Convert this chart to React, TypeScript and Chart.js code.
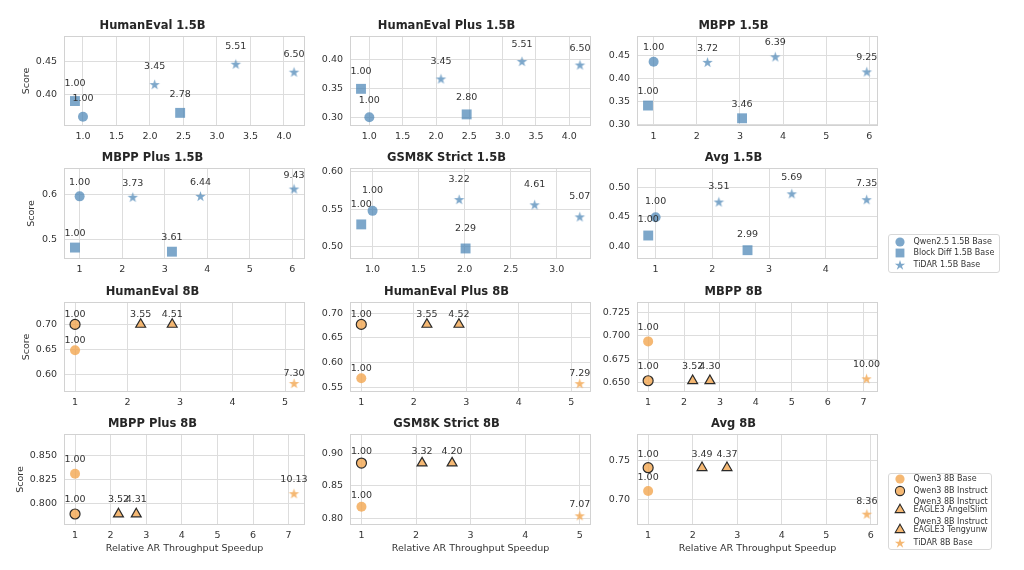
import React, { useEffect, useRef } from "react";
import { Chart, registerables } from "chart.js";
Chart.register(...registerables);

const FONT = "'DejaVu Sans', 'Liberation Sans', sans-serif";
Chart.defaults.font.family = FONT;

// ---------------- data ----------------
const titles15 = ["HumanEval 1.5B", "HumanEval Plus 1.5B", "MBPP 1.5B", "MBPP Plus 1.5B", "GSM8K Strict 1.5B", "Avg 1.5B"];
const titles8 = ["HumanEval 8B", "HumanEval Plus 8B", "MBPP 8B", "MBPP Plus 8B", "GSM8K Strict 8B", "Avg 8B"];

// 1.5B models
const qwen25BaseX = [1.0, 1.0, 1.0, 1.0, 1.0, 1.0];
const qwen25BaseY = [0.366, 0.300, 0.4375, 0.595, 0.548, 0.449];
const qwen25BaseLbl = ["1.00", "1.00", "1.00", "1.00", "1.00", "1.00"];

const blockDiffX = [[0.88, 2.45], [0.875, 2.46], [0.87, 3.05], [0.89, 3.17], [0.877, 2.01], [0.87, 2.62]];
const blockDiffY = [[0.390, 0.372], [0.349, 0.305], [0.341, 0.313], [0.483, 0.474], [0.530, 0.498], [0.418, 0.393]];
const blockDiffLbl = [["1.00", "2.78"], ["1.00", "2.80"], ["1.00", "3.46"], ["1.00", "3.61"], ["1.00", "2.29"], ["1.00", "2.99"]];

const tidar15X = [[2.07, 3.28, 4.15], [2.075, 3.29, 4.16], [2.25, 3.82, 5.94], [2.25, 3.84, 6.04], [1.94, 2.76, 3.25], [2.115, 3.40, 4.72]];
const tidar15Y = [[0.415, 0.446, 0.434], [0.366, 0.396, 0.390], [0.436, 0.448, 0.415], [0.593, 0.595, 0.611], [0.563, 0.556, 0.540], [0.475, 0.489, 0.479]];
const tidar15Lbl = [["3.45", "5.51", "6.50"], ["3.45", "5.51", "6.50"], ["3.72", "6.39", "9.25"], ["3.73", "6.44", "9.43"], ["3.22", "4.61", "5.07"], ["3.51", "5.69", "7.35"]];

// 8B models
const qwen3BaseX = [1.0, 1.0, 1.0, 1.0, 1.0, 1.0];
const qwen3BaseY = [0.648, 0.568, 0.694, 0.831, 0.818, 0.711];
const qwen3BaseLbl = ["1.00", "1.00", "1.00", "1.00", "1.00", "1.00"];

const qwen3InstX = [1.0, 1.0, 1.0, 1.0, 1.0, 1.0];
const qwen3InstY = [0.700, 0.6775, 0.652, 0.7886, 0.885, 0.741];
const qwen3InstLbl = ["1.00", "1.00", "1.00", "1.00", "1.00", "1.00"];

const angelSlimX = [2.25, 2.25, 2.24, 2.22, 2.11, 2.21];
const angelSlimY = [0.700, 0.6775, 0.652, 0.7886, 0.885, 0.741];
const angelSlimLbl = ["3.55", "3.55", "3.52", "3.52", "3.32", "3.49"];

const tengyunwX = [2.85, 2.86, 2.72, 2.72, 2.66, 2.77];
const tengyunwY = [0.700, 0.6775, 0.652, 0.7886, 0.885, 0.741];
const tengyunwLbl = ["4.51", "4.52", "4.30", "4.31", "4.20", "4.37"];

const tidar8X = [5.17, 5.16, 7.08, 7.15, 5.0, 5.91];
const tidar8Y = [0.581, 0.557, 0.654, 0.810, 0.804, 0.681];
const tidar8Lbl = ["7.30", "7.29", "10.00", "10.13", "7.07", "8.36"];

// axis ranges and ticks, one entry per panel (1.5B row-major, then 8B)
const xRange = [[0.7165, 4.3135], [0.71, 4.325], [0.615, 6.2], [0.6325, 6.2975], [0.755, 3.372], [0.672, 4.92],
  [0.79, 5.378], [0.785, 5.375], [0.69, 7.40], [0.69, 7.46], [0.79, 5.205], [0.75, 6.16]];
const yRange = [[0.352, 0.489], [0.285, 0.440], [0.296, 0.494], [0.458, 0.657], [0.484, 0.605], [0.378, 0.533],
  [0.564, 0.745], [0.540, 0.723], [0.640, 0.736], [0.777, 0.873], [0.790, 0.9295], [0.667, 0.7845]];
const xTickLabels = [
  ["1.0", "1.5", "2.0", "2.5", "3.0", "3.5", "4.0"],
  ["1.0", "1.5", "2.0", "2.5", "3.0", "3.5", "4.0"],
  ["1", "2", "3", "4", "5", "6"],
  ["1", "2", "3", "4", "5", "6"],
  ["1.0", "1.5", "2.0", "2.5", "3.0"],
  ["1", "2", "3", "4"],
  ["1", "2", "3", "4", "5"],
  ["1", "2", "3", "4", "5"],
  ["1", "2", "3", "4", "5", "6", "7"],
  ["1", "2", "3", "4", "5", "6", "7"],
  ["1", "2", "3", "4", "5"],
  ["1", "2", "3", "4", "5", "6"],
];
const yTickLabels = [
  ["0.40", "0.45"],
  ["0.30", "0.35", "0.40"],
  ["0.30", "0.35", "0.40", "0.45"],
  ["0.5", "0.6"],
  ["0.50", "0.55", "0.60"],
  ["0.40", "0.45", "0.50"],
  ["0.60", "0.65", "0.70"],
  ["0.55", "0.60", "0.65", "0.70"],
  ["0.650", "0.675", "0.700", "0.725"],
  ["0.800", "0.825", "0.850"],
  ["0.80", "0.85", "0.90"],
  ["0.70", "0.75"],
];

const yTitle = "Score";
const xTitle = "Relative AR Throughput Speedup";
const legend15 = ["Qwen2.5 1.5B Base", "Block Diff 1.5B Base", "TiDAR 1.5B Base"];
const legend8 = ["Qwen3 8B Base", "Qwen3 8B Instruct", "Qwen3 8B Instruct\nEAGLE3 AngelSlim", "Qwen3 8B Instruct\nEAGLE3 Tengyunw", "TiDAR 8B Base"];

// ---------------- style / layout ----------------
const TXT = "#333333";
const BLUE = "rgba(70,130,180,0.7)";
const ORANGE = "rgba(243,166,80,0.8)";
const EDGE = "#2a2a2a";
const GRID = "#dddddd";
const FRAME = "#d2d2d2";

const COL_LEFT = [64, 350, 637];
const PLOT_W = 241;
const ROW_TOP = [36, 168, 302, 434];
const ROW_H = [90, 91, 90, 91];
const Y_W = [64, 48, 48];
const TITLE_H = 18;
const PAD_R = 16;
const X_H = [20, 20, 20, 34];
const SCORE_X = [27, 32, 27, 20.7];
const LABEL_OFF = [18, 17, 14, 14, 20, 16, 10, 10, 14, 14, 11, 13];

function makeStar(color: string, R: number): HTMLCanvasElement {
  const s = Math.ceil(R * 2 + 2);
  const c = document.createElement("canvas");
  c.width = s;
  c.height = s;
  const g = c.getContext("2d")!;
  const cx = s / 2, cy = s / 2 + R * 0.05;
  g.beginPath();
  for (let i = 0; i < 10; i++) {
    const r = i % 2 === 0 ? R : R * 0.382;
    const a = -Math.PI / 2 + (i * Math.PI) / 5;
    const px = cx + r * Math.cos(a), py = cy + r * Math.sin(a);
    if (i === 0) g.moveTo(px, py);
    else g.lineTo(px, py);
  }
  g.closePath();
  g.fillStyle = color;
  g.fill();
  return c;
}

const framePlugin = {
  id: "frameBox",
  beforeDatasetsDraw(chart: any) {
    const { ctx, chartArea: a } = chart;
    ctx.save();
    ctx.strokeStyle = FRAME;
    ctx.lineWidth = 1;
    ctx.strokeRect(Math.round(a.left) + 0.5, Math.round(a.top) + 0.5, Math.round(a.right - a.left) - 1, Math.round(a.bottom - a.top) - 1);
    ctx.restore();
  },
};

const labelPlugin = {
  id: "ptLabels",
  afterDatasetsDraw(chart: any, _args: any, opts: any) {
    const ctx = chart.ctx;
    ctx.save();
    ctx.font = `9.5px ${FONT}`;
    ctx.fillStyle = TXT;
    ctx.textAlign = "center";
    ctx.textBaseline = "middle";
    chart.data.datasets.forEach((ds: any, di: number) => {
      const meta = chart.getDatasetMeta(di);
      meta.data.forEach((el: any, i: number) => {
        if (ds.ptLabels && ds.ptLabels[i] != null) ctx.fillText(ds.ptLabels[i], el.x, el.y - opts.offset);
      });
    });
    ctx.restore();
  },
};

const pts = (xs: number[], ys: number[]) => xs.map((x, i) => ({ x, y: ys[i] }));

function buildConfig(k: number, star15: HTMLCanvasElement, star8: HTMLCanvasElement): any {
  const col = k % 3;
  const row = Math.floor(k / 3);
  const is8 = k >= 6;
  const j = k % 6;
  const datasets: any[] = [];
  const base = { showLine: false, clip: false };
  if (!is8) {
    datasets.push({ ...base, label: legend15[0], data: pts([qwen25BaseX[j]], [qwen25BaseY[j]]), ptLabels: [qwen25BaseLbl[j]],
      pointStyle: "circle", pointRadius: 5, pointBackgroundColor: BLUE, pointBorderWidth: 0, order: 3 });
    datasets.push({ ...base, label: legend15[1], data: pts(blockDiffX[j], blockDiffY[j]), ptLabels: blockDiffLbl[j],
      pointStyle: "rect", pointRadius: 7, pointBackgroundColor: BLUE, pointBorderWidth: 0, order: 2 });
    datasets.push({ ...base, label: legend15[2], data: pts(tidar15X[j], tidar15Y[j]), ptLabels: tidar15Lbl[j],
      pointStyle: star15, pointRadius: 6, pointBackgroundColor: BLUE, pointBorderWidth: 0, order: 1 });
  } else {
    datasets.push({ ...base, label: legend8[0], data: pts([qwen3BaseX[j]], [qwen3BaseY[j]]), ptLabels: [qwen3BaseLbl[j]],
      pointStyle: "circle", pointRadius: 5, pointBackgroundColor: ORANGE, pointBorderWidth: 0, order: 5 });
    datasets.push({ ...base, label: legend8[1], data: pts([qwen3InstX[j]], [qwen3InstY[j]]), ptLabels: [qwen3InstLbl[j]],
      pointStyle: "circle", pointRadius: 5, pointBackgroundColor: ORANGE, pointBorderColor: EDGE, pointBorderWidth: 1.2, order: 4 });
    datasets.push({ ...base, label: legend8[2], data: pts([angelSlimX[j]], [angelSlimY[j]]), ptLabels: [angelSlimLbl[j]],
      pointStyle: "triangle", pointRadius: 5.7, pointBackgroundColor: ORANGE, pointBorderColor: EDGE, pointBorderWidth: 1.2, order: 3 });
    datasets.push({ ...base, label: legend8[3], data: pts([tengyunwX[j]], [tengyunwY[j]]), ptLabels: [tengyunwLbl[j]],
      pointStyle: "triangle", pointRadius: 5.7, pointBackgroundColor: ORANGE, pointBorderColor: EDGE, pointBorderWidth: 1.2, order: 2 });
    datasets.push({ ...base, label: legend8[4], data: pts([tidar8X[j]], [tidar8Y[j]]), ptLabels: [tidar8Lbl[j]],
      pointStyle: star8, pointRadius: 6, pointBackgroundColor: ORANGE, pointBorderWidth: 0, order: 1 });
  }
  const titles = is8 ? titles8 : titles15;
  const xl = xTickLabels[k];
  const yl = yTickLabels[k];
  const tickFont = { family: FONT, size: 9.5 };
  return {
    type: "scatter",
    data: { datasets },
    plugins: [framePlugin, labelPlugin],
    options: {
      animation: false,
      responsive: true,
      maintainAspectRatio: false,
      events: [],
      layout: { padding: { top: 0, right: PAD_R, bottom: 0, left: 0 } },
      plugins: {
        legend: { display: false },
        tooltip: { enabled: false },
        title: {
          display: true,
          text: titles[j],
          color: "#262626",
          font: { family: FONT, size: 11.5, weight: "bold", lineHeight: 1.2 },
          padding: { top: 1.1, bottom: 3.1 },
        },
        ptLabels: { offset: LABEL_OFF[k] },
      },
      scales: {
        x: {
          type: "linear",
          position: "bottom",
          bounds: "data",
          min: xRange[k][0],
          max: xRange[k][1],
          afterBuildTicks: (s: any) => { s.ticks = xl.map((t) => ({ value: parseFloat(t) })); },
          afterFit: (s: any) => { s.height = X_H[row]; },
          ticks: { callback: (_v: any, i: number) => xl[i], font: tickFont, color: TXT, padding: 5, maxRotation: 0, autoSkip: false },
          grid: { color: GRID, lineWidth: 1, drawTicks: false },
          border: { display: false },
          title: row === 3
            ? { display: true, text: xTitle, color: TXT, font: { family: FONT, size: 9.5, lineHeight: 1.2 }, padding: { top: 0, bottom: 5 } }
            : { display: false },
        },
        y: {
          type: "linear",
          position: "left",
          bounds: "data",
          min: yRange[k][0],
          max: yRange[k][1],
          afterBuildTicks: (s: any) => { s.ticks = yl.map((t) => ({ value: parseFloat(t) })); },
          afterFit: (s: any) => { s.width = Y_W[col]; },
          ticks: { callback: (_v: any, i: number) => yl[i], font: tickFont, color: TXT, padding: 7, autoSkip: false },
          grid: { color: GRID, lineWidth: 1, drawTicks: false },
          border: { display: false },
          title: col === 0
            ? { display: true, text: yTitle, color: TXT, font: { family: FONT, size: 9.5, lineHeight: 1.2 }, padding: { top: SCORE_X[row] - 5.7, bottom: 0 } }
            : { display: false },
        },
      },
    },
  };
}

function Marker({ kind, fill, edge }: { kind: string; fill: string; edge?: string }) {
  const sw = edge ? 1.1 : 0;
  const st = edge || "none";
  let shape: any = null;
  if (kind === "circle") shape = <circle cx={6} cy={6} r={4.6} fill={fill} stroke={st} strokeWidth={sw} />;
  else if (kind === "rect") shape = <rect x={1.6} y={1.6} width={8.8} height={8.8} fill={fill} />;
  else if (kind === "triangle") shape = <polygon points="6,1.2 10.8,9.6 1.2,9.6" fill={fill} stroke={st} strokeWidth={sw} strokeLinejoin="miter" />;
  else {
    const p: string[] = [];
    for (let i = 0; i < 10; i++) {
      const r = i % 2 === 0 ? 5.4 : 5.4 * 0.382;
      const a = -Math.PI / 2 + (i * Math.PI) / 5;
      p.push(`${(6 + r * Math.cos(a)).toFixed(2)},${(6.3 + r * Math.sin(a)).toFixed(2)}`);
    }
    shape = <polygon points={p.join(" ")} fill={fill} />;
  }
  return <svg width={12} height={12} style={{ position: "absolute", display: "block" }}>{shape}</svg>;
}

type LegItem = { text: string; kind: string; fill: string; edge?: string; ty: number; my: number };

function Legend({ left, top, width, height, items }: { left: number; top: number; width: number; height: number; items: LegItem[] }) {
  return (
    <div style={{ position: "absolute", left, top, width, height, border: "1px solid #d8d8d8", borderRadius: 3, background: "rgba(255,255,255,0.9)", boxSizing: "border-box" }}>
      {items.map((it, i) => {
        const lines = it.text.split("\n");
        return (
          <React.Fragment key={i}>
            <div style={{ position: "absolute", left: 11.5 - 6 - 1, top: it.my - 6 - 1, width: 12, height: 12 }}>
              <Marker kind={it.kind} fill={it.fill} edge={it.edge} />
            </div>
            <div style={{ position: "absolute", left: 25.5 - 1, top: it.ty - 4 - 1, fontFamily: FONT, fontSize: 8, lineHeight: "8px", color: TXT, whiteSpace: "nowrap" }}>
              {lines.map((l, li) => <div key={li}>{l}</div>)}
            </div>
          </React.Fragment>
        );
      })}
    </div>
  );
}

export default function App() {
  const refs = useRef<(HTMLCanvasElement | null)[]>([]);
  useEffect(() => {
    const star15 = makeStar(BLUE, 5.5);
    const star8 = makeStar(ORANGE, 5.5);
    const charts = refs.current.map((c, k) => (c ? new Chart(c, buildConfig(k, star15, star8)) : null));
    return () => charts.forEach((ch) => ch && ch.destroy());
  }, []);

  const panels = Array.from({ length: 12 }, (_, k) => {
    const col = k % 3, row = Math.floor(k / 3);
    return {
      left: COL_LEFT[col] - Y_W[col],
      top: ROW_TOP[row] - TITLE_H,
      width: Y_W[col] + PLOT_W + PAD_R,
      height: TITLE_H + ROW_H[row] + X_H[row],
    };
  });

  const items15: LegItem[] = [
    { text: legend15[0], kind: "circle", fill: BLUE, ty: 8, my: 8 },
    { text: legend15[1], kind: "rect", fill: BLUE, ty: 19.4, my: 19.4 },
    { text: legend15[2], kind: "star", fill: BLUE, ty: 30.8, my: 30.8 },
  ];
  const items8: LegItem[] = [
    { text: legend8[0], kind: "circle", fill: ORANGE, ty: 6.3, my: 6.3 },
    { text: legend8[1], kind: "circle", fill: ORANGE, edge: EDGE, ty: 17.7, my: 17.7 },
    { text: legend8[2], kind: "triangle", fill: ORANGE, edge: EDGE, ty: 29, my: 36 },
    { text: legend8[3], kind: "triangle", fill: ORANGE, edge: EDGE, ty: 49, my: 56 },
    { text: legend8[4], kind: "star", fill: ORANGE, ty: 69.7, my: 69.7 },
  ];

  return (
    <div style={{ position: "fixed", left: 0, top: 0, width: 1024, height: 570, background: "#ffffff", overflow: "hidden" }}>
      {panels.map((p, k) => (
        <div key={k} style={{ position: "absolute", left: p.left, top: p.top, width: p.width, height: p.height }}>
          <canvas ref={(el) => { refs.current[k] = el; }} style={{ display: "block" }} />
        </div>
      ))}
      <Legend left={888} top={234} width={112} height={39} items={items15} />
      <Legend left={888} top={473} width={104} height={77} items={items8} />
    </div>
  );
}
